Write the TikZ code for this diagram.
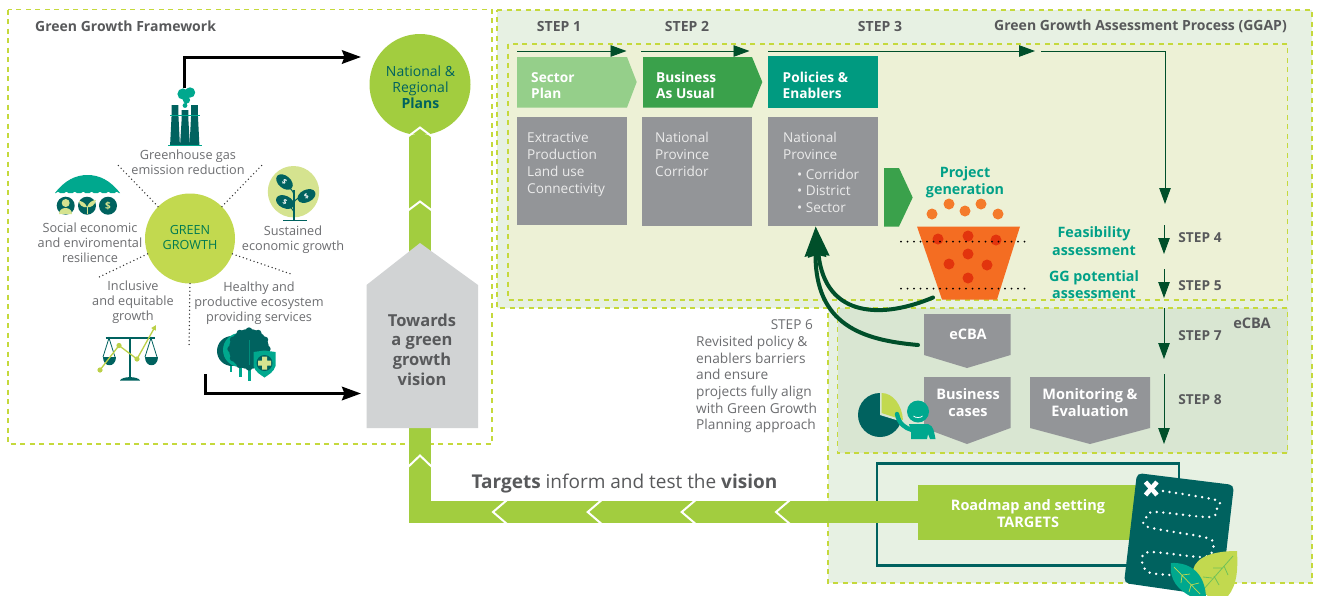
\documentclass[tikz,border=0pt]{standalone}
\usepackage{fontspec}
\setmainfont{Open Sans}
\usetikzlibrary{arrows.meta,calc}
\definecolor{dashg}{HTML}{C5D93C}
\definecolor{panelA}{HTML}{E7F1E3}
\definecolor{panelB}{HTML}{EDF1D6}
\definecolor{panelC}{HTML}{D9E6D2}
\definecolor{bandg}{HTML}{A2CD3F}
\definecolor{lime}{HTML}{C2D94F}
\definecolor{palelime}{HTML}{D5E38F}
\definecolor{deepteal}{HTML}{00625F}
\definecolor{teal}{HTML}{00A88E}
\definecolor{tealtext}{HTML}{00A087}
\definecolor{policy}{HTML}{009A80}
\definecolor{bau}{HTML}{3AA14B}
\definecolor{sector}{HTML}{95CF8A}
\definecolor{boxgrey}{HTML}{939598}
\definecolor{housegrey}{HTML}{D1D3D4}
\definecolor{head}{HTML}{58595B}
\definecolor{lab}{HTML}{6D6E71}
\definecolor{forest}{HTML}{004F2A}
\definecolor{orangeA}{HTML}{F47B2B}
\definecolor{orangeB}{HTML}{F46D22}
\definecolor{redd}{HTML}{E2340D}
\newcommand{\fs}[2]{\fontsize{#1}{#2}\selectfont}
\tikzset{
  x=1pt,y=-1pt,
  framed/.style={draw=dashg,line width=1.2pt,dash pattern=on 5pt off 4.5pt},
  label/.style={inner sep=0pt,align=center,text=lab,font=\fs{12.7}{15}},
  stepl/.style={inner sep=0pt,text=head,font=\fs{13.7}{15}\bfseries},
  hdr/.style={inner sep=0pt,text=head,font=\fs{14}{16}\bfseries},
  boxt/.style={inner sep=0pt,align=left,anchor=north west,text=white,font=\fs{13.7}{16}\bfseries},
  greyt/.style={inner sep=0pt,align=left,anchor=north west,text=white!92!black,font=\fs{13.6}{17}},
  centred/.style={inner sep=0pt,align=center,text=white,font=\fs{14.5}{17}\bfseries},
  tealh/.style={inner sep=0pt,align=center,text=tealtext,font=\fs{14.3}{17.5}\bfseries},
  blackarrow/.style={draw=black,line width=3pt,-{Stealth[length=19pt,width=13.5pt,inset=2.5pt]}},
  thinarrow/.style={draw=forest,line width=.9pt,-{Triangle[length=16pt,width=11.5pt]}},
  bigcurve/.style={draw=forest,line width=4pt,line cap=round},
  chev/.style={draw=white,line width=2pt},
  dots/.style={draw=black,line width=2pt,line cap=round,dash pattern=on 0pt off 6.5pt},
  spoke/.style={draw=black!80,line width=1.5pt,line cap=round,dash pattern=on 0pt off 3.8pt},
}
\begin{document}
\begin{tikzpicture}
\useasboundingbox (0,0) rectangle (1317,595);
\fill[white] (0,0) rectangle (1317,595);

% panels
\draw[framed,fill=panelA] (497,10) -- (1312,10) -- (1312,583) -- (828,583) -- (828,308) -- (497,308) -- cycle;
\draw[framed,fill=panelB] (508,44) rectangle (1287.5,300);
\draw[framed,fill=panelC] (837.5,308) rectangle (1287.5,453);
\draw[framed] (8,9.5) rectangle (492,444);

% headings
\node[hdr,anchor=west] (gtitle) at (35,26.5) {Green Growth Framework};
\node[hdr] (s1) at (559,26.5) {STEP 1};
\node[hdr] (s2) at (687,26.5) {STEP 2};
\node[hdr] (s3) at (880,26.5) {STEP 3};
\node[hdr,anchor=east] (ggap) at (1287,26.5) {Green Growth Assessment Process (GGAP)};

% national circle + band + house
\node[circle,fill=bandg,minimum size=101pt,inner sep=0pt] (plans) at (420,84.5) {};
\node[inner sep=0pt,align=center,text=deepteal,font=\fs{14}{16}] (planst) at (420.5,87) {National \&\\Regional\\\textbf{Plans}};
\draw[draw=deepteal,line width=2.4pt] (877,463.5) rectangle (1179,565.5);
\node[fill=bandg,inner sep=0pt,minimum width=222pt,minimum height=55pt] (road) at (1029,512) {};
\draw[draw=bandg,line width=22pt] (road.center) -| (plans.south);
\node[centred] (roadt) at (1028,513.5) {Roadmap and setting\\TARGETS};
\draw[chev] (408,136.5) -- (420,127.5) -- (432,136.5);
\draw[chev] (408,210.5) -- (420,201.5) -- (432,210.5);
\draw[chev] (408,467) -- (420,455.5) -- (432,467);
\foreach \t in {493,587.7,681.7,776}
  \draw[chev] (\t+14,500) -- (\t,512) -- (\t+14,524);

\fill[housegrey] (366.5,428) -- (366.5,285) -- (420,243) -- (478,285) -- (478,428) -- cycle;
\node[inner sep=0pt,align=center,text=head,font=\fs{16.5}{19.7}\bfseries] (vision) at (422,349.5) {Towards\\a green\\growth\\vision};

% black arrows
\coordinate (factorytop) at (184,88);
\coordinate (planswest) at (361,57);
\coordinate (treesfoot) at (205,374);
\coordinate (visionwest) at (361,393.5);
\draw[blackarrow] (factorytop) |- (planswest);
\draw[blackarrow] (treesfoot) |- (visionwest);

% green growth
\node[circle,fill=lime,minimum size=90pt,inner sep=0pt,align=center,text=deepteal!85!green,font=\fs{12.6}{15}] (gg) at (190,238.5) {\raisebox{2pt}{GREEN}\\\raisebox{2pt}{GROWTH}};
\coordinate (sp1) at (116,163); \coordinate (sp2) at (264,163);
\coordinate (sp3) at (97,278); \coordinate (sp4) at (291,274); \coordinate (sp5) at (189,346);
\draw[spoke] (gg.135) -- (sp1);
\draw[spoke] (gg.45) -- (sp2);
\draw[spoke] (gg.200) -- (sp3);
\draw[spoke] (gg.-20) -- (sp4);
\draw[spoke] (gg.south) -- (sp5);
\node[label] (l1) at (188,162) {Greenhouse gas\\emission reduction};
\node[label] (l2) at (90,243) {Social economic\\and enviromental\\resilience};
\node[label] (l3) at (293,240) {Sustained\\economic growth};
\node[label] (l4) at (133,302.5) {Inclusive\\and equitable\\growth};
\node[label] (l5) at (259,303.5) {Healthy and\\productive ecosystem\\providing services};

% factory icon
\foreach \c/\t in {175/105,185/110,194.5/105}
  \fill[deepteal] (\c-3.4,\t) -- (\c+3.4,\t) -- (\c+3.4,\t+10) -- (\c+4.9,145) -- (\c-4.9,145) -- (\c-3.4,\t+10) -- cycle;
\draw[teal,line width=.7pt] (170,115.5) -- (200,115.5);
\draw[teal,line width=.8pt] (168,145.5) -- (202,145.5);
\fill[teal] (183,94) circle (5.6) (190,92.5) circle (5.2) (186.5,100) circle (3.6) (185,105.5) circle (2.4);

% umbrella icon
\fill[teal] (55,193) .. controls (65,180) and (76,175) .. (87.5,175) .. controls (99,175) and (110,180) .. (120,193) -- cycle;
\foreach \k in {0,...,7} \fill[white] (58+\k*8.4,194.2) circle (2.2);
\fill[deepteal] (65.7,205.7) circle (9) (87,205.7) circle (9) (108,205.7) circle (9);
\fill[palelime] (65.7,203) circle (4) (59,214) .. controls (59,206) and (72,206) .. (72,214) -- cycle;
\fill[palelime] (87,207) .. controls (85,202) and (81,201) .. (79,201) .. controls (79,205) and (83,208) .. (87,207) -- cycle;
\fill[palelime] (87,207) .. controls (89,202) and (93,200) .. (96,200) .. controls (95,205) and (91,208) .. (87,207) -- cycle;
\draw[palelime,line width=.8pt] (87,207) -- (87,214);
\node[inner sep=0pt,text=palelime,font=\fs{10}{11}\bfseries] (usd) at (108,205.7) {\$};

% plant icon
\fill[palelime] (293.5,191.7) circle (25.7);
\draw[deepteal,line width=1.4pt] (294,190) -- (294,220);
\draw[deepteal,line width=1pt] (283,220.7) -- (307,220.7);
\draw[deepteal,line width=1pt] (294,204) .. controls (294,198) and (300,198) .. (304,197);
\draw[deepteal,line width=1pt] (294,212) .. controls (292,208) and (290,207) .. (287,205);
\draw[deepteal,line width=1pt] (294,195) .. controls (293,190) and (290,188) .. (286,186);
\foreach \cx/\cy/\rot/\nm in {284.5/182/-40/a,306.5/196/25/b,285/202/-25/c}{
  \fill[deepteal,rotate around={\rot:(\cx,\cy)}] (\cx,\cy) ellipse (9.5 and 6.2);
  \node[inner sep=0pt,text=white,rotate=\rot,font=\fs{7}{8}\bfseries] (leaf\nm) at (\cx,\cy) {\$};
}

% scales icon
\draw[deepteal,line width=2pt] (105.5,337.5) -- (155,337.5);
\draw[deepteal,line width=2.4pt] (130,337.5) -- (130,378);
\fill[deepteal] (120,380.5) .. controls (122,376) and (138,376) .. (140,380.5) -- cycle;
\foreach \c in {109,151}{
  \fill[deepteal] (\c-6.5,356.5) -- (\c+6.5,356.5) .. controls (\c+6.5,368) and (\c-6.5,368) .. (\c-6.5,356.5) -- cycle;
  \draw[deepteal,line width=.8pt] (\c-6,357) -- (\c,338) -- (\c+6,357);
}
\draw[lime!90!olive,line width=1.3pt,-{Triangle[length=5pt,width=5pt]}] (100,370) -- (119,345.5) -- (137,359) -- (156,325);
\fill[lime!90!olive] (100,370) circle (2.6) (119,345.5) circle (2.6) (137,359) circle (2.6);

% tree icon
\draw[teal,line width=2.4pt] (231,355) -- (231,372);
\draw[teal,line width=3pt] (240.5,358) -- (240.5,377);
\draw[teal,line width=3.2pt] (249.5,360) -- (249.5,381);
\fill[deepteal] (232,351) circle (15);
\fill[teal] (240,350) circle (17);
\fill[deepteal] (249,349) circle (20);
\foreach \a in {0,30,...,330} \fill[deepteal] ($(249,349)+(\a:18.5)$) circle (3.2);
\draw[teal!60!deepteal,line width=.5pt] (249.5,340) -- (249.5,365);
\fill[teal] (253.5,352) -- (264.5,350.5) -- (275.5,352) -- (275.5,366) .. controls (274,372) and (268,375) .. (264.5,377.5) .. controls (261,375) and (255,372) .. (253.5,366) -- cycle;
\fill[deepteal] (264.5,363) circle (8);
\fill[palelime] (262,356.5) rectangle (267,369.5) (258,360.5) rectangle (271,365.5);

% chevron boxes
\fill[sector] (517,57) -- (627,57) -- (636.7,82) -- (627,107.5) -- (517,107.5) -- cycle;
\fill[bau] (643,57) -- (752,57) -- (762.3,82) -- (752,107.5) -- (643,107.5) -- cycle;
\fill[policy] (768,56) rectangle (878,108);
\node[boxt] (t1) at (531,72) {Sector\\Plan};
\node[boxt] (t2) at (656,72) {Business\\As Usual};
\node[boxt] (t3) at (782.5,72) {Policies \&\\Enablers};

% grey boxes
\fill[boxgrey] (517,117) rectangle (627,225);
\fill[boxgrey] (642,117) rectangle (752,226);
\fill[boxgrey] (768,117) rectangle (878,226);
\node[greyt] (g1) at (527,132) {Extractive\\Production\\Land use\\Connectivity};
\node[greyt] (g2) at (655,132) {National\\Province\\Corridor};
\node[greyt] (g3) at (783,132) {National\\Province};
\node[greyt,font=\fs{13.6}{16.5}] (g3b) at (797,168.5) {• Corridor\\• District\\• Sector};

% flow arrows along top
\coordinate (a1s) at (517,51); \coordinate (a1e) at (626.5,51);
\coordinate (a2s) at (641,51); \coordinate (a2e) at (749.5,51);
\coordinate (a3s) at (768,51); \coordinate (a3e) at (1035,51);
\coordinate (a4s) at (1041,51); \coordinate (a4e) at (1165,204);
\draw[thinarrow] (a1s) -- (a1e);
\draw[thinarrow] (a2s) -- (a2e);
\draw[thinarrow] (a3s) -- (a3e);
\draw[thinarrow] (a4s) -| (a4e);
\coordinate (b4s) at (1164,225); \coordinate (b4e) at (1164,254);
\coordinate (b5s) at (1164,269); \coordinate (b5e) at (1164,298);
\coordinate (b7s) at (1164,308); \coordinate (b7e) at (1164,359);
\coordinate (b8s) at (1164,374); \coordinate (b8e) at (1164,444);
\draw[thinarrow] (b4s) -- (b4e);
\draw[thinarrow] (b5s) -- (b5e);
\draw[thinarrow] (b7s) -- (b7e);
\draw[thinarrow] (b8s) -- (b8e);
\node[stepl] (s4) at (1200,237.5) {STEP 4};
\node[stepl] (s5) at (1200,285.5) {STEP 5};
\node[stepl] (s7) at (1200,335.5) {STEP 7};
\node[stepl] (s8) at (1200,399.5) {STEP 8};
\node[hdr,anchor=east,font=\fs{14.6}{16}\bfseries] (ecbal) at (1271,323.5) {eCBA};

% project generation + funnel
\fill[bau] (884,168) -- (899,168) -- (912.7,197.5) -- (899,226.5) -- (884,226.5) -- cycle;
\node[tealh] (pg) at (965,182.5) {Project\\generation};
\foreach \x/\y in {932/214,949/204,965/211,981/204,998/214} \fill[orangeA] (\x,\y) circle (5.5);
\fill[orangeB] (917,226.5) -- (1020,226.5) -- (997,299.5) -- (942,299.5) -- cycle;
\foreach \x/\y in {938/239,968/236,996/240,968/254,949/264,987/265,968/278} \fill[redd] (\x,\y) circle (5.5);
\coordinate (d1s) at (901,241.7); \coordinate (d1e) at (1029,241.7);
\coordinate (d2s) at (901,288.7); \coordinate (d2e) at (1029,288.7);
\draw[dots] (d1s) -- (d1e);
\draw[dots] (d2s) -- (d2e);
\node[tealh] (fa) at (1094,241) {Feasibility\\assessment};
\node[tealh] (gp) at (1094,284.5) {GG potential\\assessment};

% step 6
\node[inner sep=0pt,text=lab,anchor=east,font=\fs{13.6}{15}] (s6) at (813,325) {STEP 6};
\node[inner sep=0pt,align=left,anchor=north west,text=lab,font=\fs{13.7}{16.6}] (s6t) at (696,336) {Revisited policy \&\\enablers barriers\\and ensure\\projects fully align\\with Green Growth\\Planning approach};

% eCBA boxes
\fill[boxgrey] (924,314) -- (1010.5,314) -- (1010.5,355) -- (967,368) -- (924,355) -- cycle;
\fill[boxgrey] (924,377) -- (1010.5,377) -- (1010.5,428) -- (967,444) -- (924,428) -- cycle;
\fill[boxgrey] (1030,377) -- (1150,377) -- (1150,428) -- (1090,444) -- (1030,428) -- cycle;
\node[centred] (e1) at (968,334) {eCBA};
\node[centred] (e2) at (968,402.5) {Business\\cases};
\node[centred] (e3) at (1090,402.5) {Monitoring \&\\Evaluation};

% big curved arrows
\coordinate (cs1) at (933,297.5);
\coordinate (cs2) at (918,345);
\coordinate (ce) at (815.7,226.5);
\draw[bigcurve,-{Stealth[length=30pt,width=21pt,inset=2pt]}] (cs1) .. controls (885,318) and (825,320) .. (ce);
\draw[bigcurve,-{Stealth[length=30pt,width=21pt,inset=2pt]}] (cs2) .. controls (862,340) and (815,325) .. (ce);

% pie + person
\fill[deepteal] (880,415) circle (22);
\fill[panelC] (880,415) -- (880,390) -- (906,390) -- (906,423) -- cycle;
\fill[lime] (881.5,393) .. controls (893,393) and (902,405) .. (903,420) -- (881.5,413) -- cycle;
\fill[teal] (918,411.5) circle (11);
\draw[white,line width=.8pt] (913.5,416) .. controls (915,418) and (921,418) .. (922.5,416);
\fill[teal] (909,424) -- (928,424) .. controls (934,426) and (934,432) .. (935.5,439) -- (930,439) -- (928,434) -- (927,439) -- (911,439) -- (911,432) -- cycle;
\draw[teal,line width=4.4pt,line cap=round] (897,414) .. controls (899,424) and (905,428) .. (912,430);

% target text
\node[inner sep=0pt,text=head,font=\fs{19}{22}] (tgt) at (624.5,484) {\textbf{Targets} inform and test the \textbf{vision}};

% map
\fill[deepteal,rounded corners=5pt] (1137,473) -- (1234,485) -- (1221,597) -- (1124,583) -- cycle;
\draw[white,line width=2.7pt,line cap=round,dash pattern=on 0pt off 6.6pt] plot[smooth,tension=.55] coordinates {(1163,491) (1216,500) (1217,507) (1210,517) (1155,512) (1146,518) (1148,527) (1207,538) (1213,548) (1203,557) (1150,552) (1142,560) (1148,572) (1170,575)};
\draw[white,line width=4.5pt] (1145.5,482) -- (1157,495) (1157,482) -- (1145.5,495);

% leaves
\fill[lime] (1237,551) .. controls (1215,551) and (1196,556) .. (1193,570) .. controls (1192,580) and (1200,590) .. (1208,596) -- (1228,596) .. controls (1237,585) and (1238,570) .. (1237,551) -- cycle;
\draw[bandg!70!teal,line width=.8pt] (1233,556) -- (1203,590) (1222,568) -- (1213,568) (1224,566) -- (1228,575) (1212,578) -- (1203,577) (1214,576) -- (1219,585);
\fill[teal] (1171,563) .. controls (1192,562) and (1205,575) .. (1206,597) -- (1192,597) .. controls (1178,590) and (1169,580) .. (1171,563) -- cycle;
\draw[lime,line width=.7pt] (1174,567) -- (1200,594) (1182,575) -- (1190,574) (1182,575) -- (1181,583) (1191,585) -- (1199,583) (1191,585) -- (1189,592);
\end{tikzpicture}
\end{document}
